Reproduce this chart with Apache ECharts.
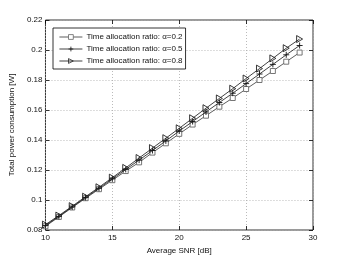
<!DOCTYPE html>
<html>
<head>
<meta charset="utf-8">
<script src="https://cdn.jsdelivr.net/npm/echarts@6/dist/echarts.min.js"></script>
<style>
html,body{margin:0;padding:0;background:#fff;}
#c{width:346px;height:260px;}
</style>
</head>
<body>
<div id="c"></div>
<script>
var snr = [10,11,12,13,14,15,16,17,18,19,20,21,22,23,24,25,26,27,28,29];
var alpha02 = [0.0825,0.0887,0.0950,0.1012,0.1072,0.1132,0.1193,0.1251,0.1316,0.1378,0.1441,0.1503,0.1562,0.1622,0.1680,0.1740,0.1800,0.1860,0.1922,0.1983];
var alpha05 = [0.0830,0.0891,0.0954,0.1017,0.1078,0.1141,0.1204,0.1266,0.1330,0.1394,0.1460,0.1523,0.1587,0.1650,0.1712,0.1776,0.1840,0.1904,0.1968,0.2030];
var alpha08 = [0.0836,0.0896,0.0959,0.1022,0.1085,0.1149,0.1214,0.1280,0.1346,0.1412,0.1478,0.1545,0.1612,0.1677,0.1742,0.1810,0.1876,0.1944,0.2012,0.2073];
var seriesNames = ['Time allocation ratio: \u03b1=0.2','Time allocation ratio: \u03b1=0.5','Time allocation ratio: \u03b1=0.8'];
var xTicks = [10,15,20,25,30];
var yTicks = [0.08,0.1,0.12,0.14,0.16,0.18,0.2,0.22];

function pairs(xs, ys){ return xs.map(function(x,i){ return [x, ys[i]]; }); }

var FONT = 'Liberation Sans, Arial, sans-serif';
var chart = echarts.init(document.getElementById('c'), null, {renderer:'canvas'});
var gridLine = {show:true, lineStyle:{color:'#aaa', type:[1,2], width:0.8}};
var common = {
  axisLine:{show:false},
  axisTick:{show:true, inside:true, length:4, lineStyle:{color:'#000', width:0.8}},
};
chart.setOption({
  backgroundColor:'#fff',
  animation:false,
  grid:{left:44, right:33, top:20, bottom:30, show:true, borderColor:'#000', borderWidth:0.8, backgroundColor:'transparent'},
  legend:{
    orient:'vertical', left:53, top:28,
    backgroundColor:'#fff', borderColor:'#000', borderWidth:0.8,
    padding:[5,3,4,6], itemWidth:23, itemHeight:6, itemGap:4,
    textStyle:{fontSize:8, fontFamily:FONT, color:'#111', padding:[0,0,0,-1]},
    lineStyle:{width:0.8},
    itemStyle:{borderWidth:0.8},
    data:seriesNames
  },
  xAxis:[
    Object.assign({type:'value', min:10, max:30, interval:5, position:'bottom',
      name:'Average SNR [dB]', nameLocation:'middle', nameGap:14,
      nameTextStyle:{fontSize:8, fontFamily:FONT, color:'#111'},
      axisLabel:{fontSize:8, fontFamily:FONT, color:'#111', margin:4},
      splitLine:gridLine}, common),
    Object.assign({type:'value', min:10, max:30, interval:5, position:'top',
      axisLabel:{show:false}, splitLine:{show:false}}, common)
  ],
  yAxis:[
    Object.assign({type:'value', min:0.08, max:0.22, interval:0.02, position:'left',
      name:'Total power consumption [W]', nameLocation:'middle', nameGap:19,
      nameTextStyle:{fontSize:8, fontFamily:FONT, color:'#111'},
      axisLabel:{fontSize:8, fontFamily:FONT, color:'#111', margin:3,
        formatter:function(v){ return String(+v.toFixed(2)); }},
      splitLine:gridLine}, common),
    Object.assign({type:'value', min:0.08, max:0.22, interval:0.02, position:'right',
      axisLabel:{show:false}, splitLine:{show:false}}, common)
  ],
  series:[
    {name:seriesNames[0], type:'line', data:pairs(snr, alpha02),
     symbol:'rect', symbolSize:5,
     lineStyle:{color:'#333', width:0.8},
     itemStyle:{color:'#fff', borderColor:'#666', borderWidth:0.9},
     z:3},
    {name:seriesNames[1], type:'line', data:pairs(snr, alpha05),
     symbol:'path://M5,0 L5,10 M0,5 L10,5', symbolSize:6,
     lineStyle:{color:'#111', width:0.8},
     itemStyle:{color:'transparent', borderColor:'#111', borderWidth:0.9},
     z:4},
    {name:seriesNames[2], type:'line', data:pairs(snr, alpha08),
     symbol:'path://M0,0 L10,5 L0,10 Z', symbolSize:[6,7],
     lineStyle:{color:'#111', width:0.8},
     itemStyle:{color:'transparent', borderColor:'#222', borderWidth:0.9},
     z:5}
  ]
});
</script>
</body>
</html>
